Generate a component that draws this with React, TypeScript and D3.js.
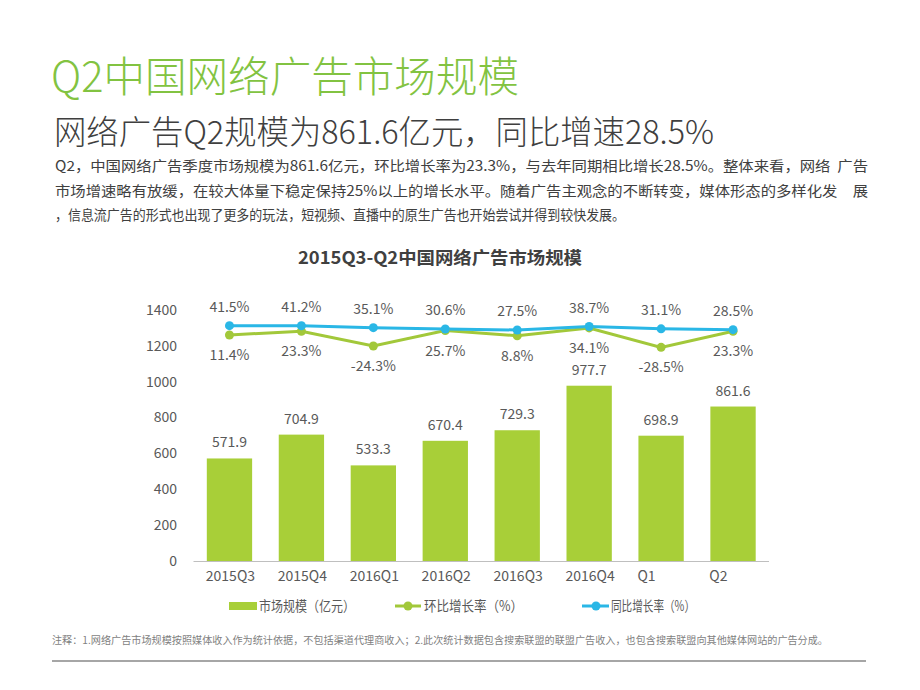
import React from 'react';
import * as d3 from 'd3';

const categories = ['2015Q3', '2015Q4', '2016Q1', '2016Q2', '2016Q3', '2016Q4', 'Q1', 'Q2'];
const marketSize = [571.9, 704.9, 533.3, 670.4, 729.3, 977.7, 698.9, 861.6];
const qoqGrowth = [11.4, 23.3, -24.3, 25.7, 8.8, 34.1, -28.5, 23.3];
const yoyGrowth = [41.5, 41.2, 35.1, 30.6, 27.5, 38.7, 31.1, 28.5];
const yTicks = [0, 200, 400, 600, 800, 1000, 1200, 1400];

const titleText = 'Q2中国网络广告市场规模';
const subtitleText = '网络广告Q2规模为861.6亿元，同比增速28.5%';
const paragraphLines = [
  'Q2，中国网络广告季度市场规模为861.6亿元，环比增长率为23.3%，与去年同期相比增长28.5%。整体来看，网络  广告',
  '市场增速略有放缓，在较大体量下稳定保持25%以上的增长水平。随着广告主观念的不断转变，媒体形态的多样化发　展',
  '，信息流广告的形式也出现了更多的玩法，短视频、直播中的原生广告也开始尝试并得到较快发展。',
];
const paragraphWidths = [813, 813, 570];
const chartTitle = '2015Q3-Q2中国网络广告市场规模';
const legendLabels = ['市场规模（亿元）', '环比增长率（%）', '同比增长率（%）'];
const footnote = '注释：1.网络广告市场规模按照媒体收入作为统计依据，不包括渠道代理商收入；2.此次统计数据包含搜索联盟的联盟广告收入，也包含搜索联盟向其他媒体网站的广告分成。';

const FONT = '"Noto Sans CJK SC", "Noto Sans", sans-serif';
const BAR = '#a8cf38';
const GREEN = '#a2c83a';
const BLUE = '#2ab7e6';
const TEXT = '#595959';

export default function App() {
  const W = 920;
  const H = 690;
  const x = d3.scaleBand<string>().domain(categories).range([193.5, 769]).paddingInner(0.37).paddingOuter(0.185);
  const y = d3.scaleLinear().domain([0, 1400]).range([561, 310]);
  const yPct = d3.scaleLinear().domain([-718, 92]).range([561, 310]);
  const cx = (c: string) => (x(c) as number) + x.bandwidth() / 2;

  const qoqLine = d3.line<number>().x((_, i) => cx(categories[i])).y((v) => yPct(v));
  const yoyLine = d3.line<number>().x((_, i) => cx(categories[i])).y((v) => yPct(v));

  return (
    <svg width={W} height={H} style={{ position: 'absolute', left: 0, top: 0, background: '#fff' }} fontFamily={FONT}>
      <rect width={W} height={H} fill="#fff" />
      <text x={51} y={92} fontSize={42} fontWeight={300} fill="#82c341" textLength={468} lengthAdjust="spacingAndGlyphs">{titleText}</text>
      <text x={54} y={144} fontSize={33} fontWeight={300} fill="#3f3f3f" textLength={660} lengthAdjust="spacingAndGlyphs">{subtitleText}</text>
      {paragraphLines.map((t, i) => (
        <text key={i} x={55} y={171 + i * 24.5} fontSize={14} fill="#404040" style={{ whiteSpace: 'pre' }}
          textLength={paragraphWidths[i]} lengthAdjust="spacingAndGlyphs">{t}</text>
      ))}
      <text x={298} y={264} fontSize={17.5} fontWeight={700} fill="#404040" textLength={284} lengthAdjust="spacingAndGlyphs">{chartTitle}</text>

      {/* y axis labels */}
      {yTicks.map((t) => (
        <text key={t} x={177} y={y(t)} dy="0.35em" fontSize={14} fill={TEXT} textAnchor="end">{t}</text>
      ))}
      {/* bars */}
      {marketSize.map((v, i) => (
        <rect key={i} x={x(categories[i])} y={y(v)} width={x.bandwidth()} height={y(0) - y(v)} fill={BAR} />
      ))}
      <line x1={193.5} x2={769} y1={561.5} y2={561.5} stroke="#bfbfbf" strokeWidth={1.2} />
      {marketSize.map((v, i) => (
        <text key={i} x={cx(categories[i])} y={y(v) - 11} fontSize={14} fill={TEXT} textAnchor="middle">{v.toFixed(1)}</text>
      ))}
      {categories.map((c) => (
        <text key={c} x={(x(c) as number) - 1} y={581} fontSize={14} fill={TEXT} textAnchor="start">{c}</text>
      ))}

      {/* lines */}
      <path d={qoqLine(qoqGrowth) || ''} fill="none" stroke={GREEN} strokeWidth={3} />
      <path d={yoyLine(yoyGrowth) || ''} fill="none" stroke={BLUE} strokeWidth={3} />
      {qoqGrowth.map((v, i) => (
        <circle key={'g' + i} cx={cx(categories[i])} cy={yPct(v)} r={4.5} fill={GREEN} />
      ))}
      {yoyGrowth.map((v, i) => (
        <circle key={'b' + i} cx={cx(categories[i])} cy={yPct(v)} r={4.5} fill={BLUE} />
      ))}
      {yoyGrowth.map((v, i) => (
        <text key={'bl' + i} x={cx(categories[i])} y={yPct(v) - 14} fontSize={14} fill={TEXT} textAnchor="middle">{v.toFixed(1)}%</text>
      ))}
      {qoqGrowth.map((v, i) => (
        <text key={'gl' + i} x={cx(categories[i])} y={yPct(v) + 25} fontSize={14} fill={TEXT} textAnchor="middle">{v.toFixed(1)}%</text>
      ))}

      {/* legend */}
      <rect x={229} y={602} width={28} height={8} fill={BAR} />
      <text x={259} y={611} fontSize={14} fill={TEXT} textLength={96} lengthAdjust="spacingAndGlyphs">{legendLabels[0]}</text>
      <line x1={395} x2={421} y1={606} y2={606} stroke={GREEN} strokeWidth={3} />
      <circle cx={408} cy={606} r={4.5} fill={GREEN} />
      <text x={424} y={611} fontSize={14} fill={TEXT} textLength={99} lengthAdjust="spacingAndGlyphs">{legendLabels[1]}</text>
      <line x1={582} x2={609} y1={606} y2={606} stroke={BLUE} strokeWidth={3} />
      <circle cx={596} cy={606} r={4.5} fill={BLUE} />
      <text x={611} y={611} fontSize={14} fill={TEXT} textLength={84} lengthAdjust="spacingAndGlyphs">{legendLabels[2]}</text>

      <text x={52} y={644} fontSize={10} fill="#7f7f7f" textLength={776} lengthAdjust="spacingAndGlyphs">{footnote}</text>
      <line x1={52} x2={866} y1={661} y2={661} stroke="#a6a6a6" strokeWidth={2} />
    </svg>
  );
}
